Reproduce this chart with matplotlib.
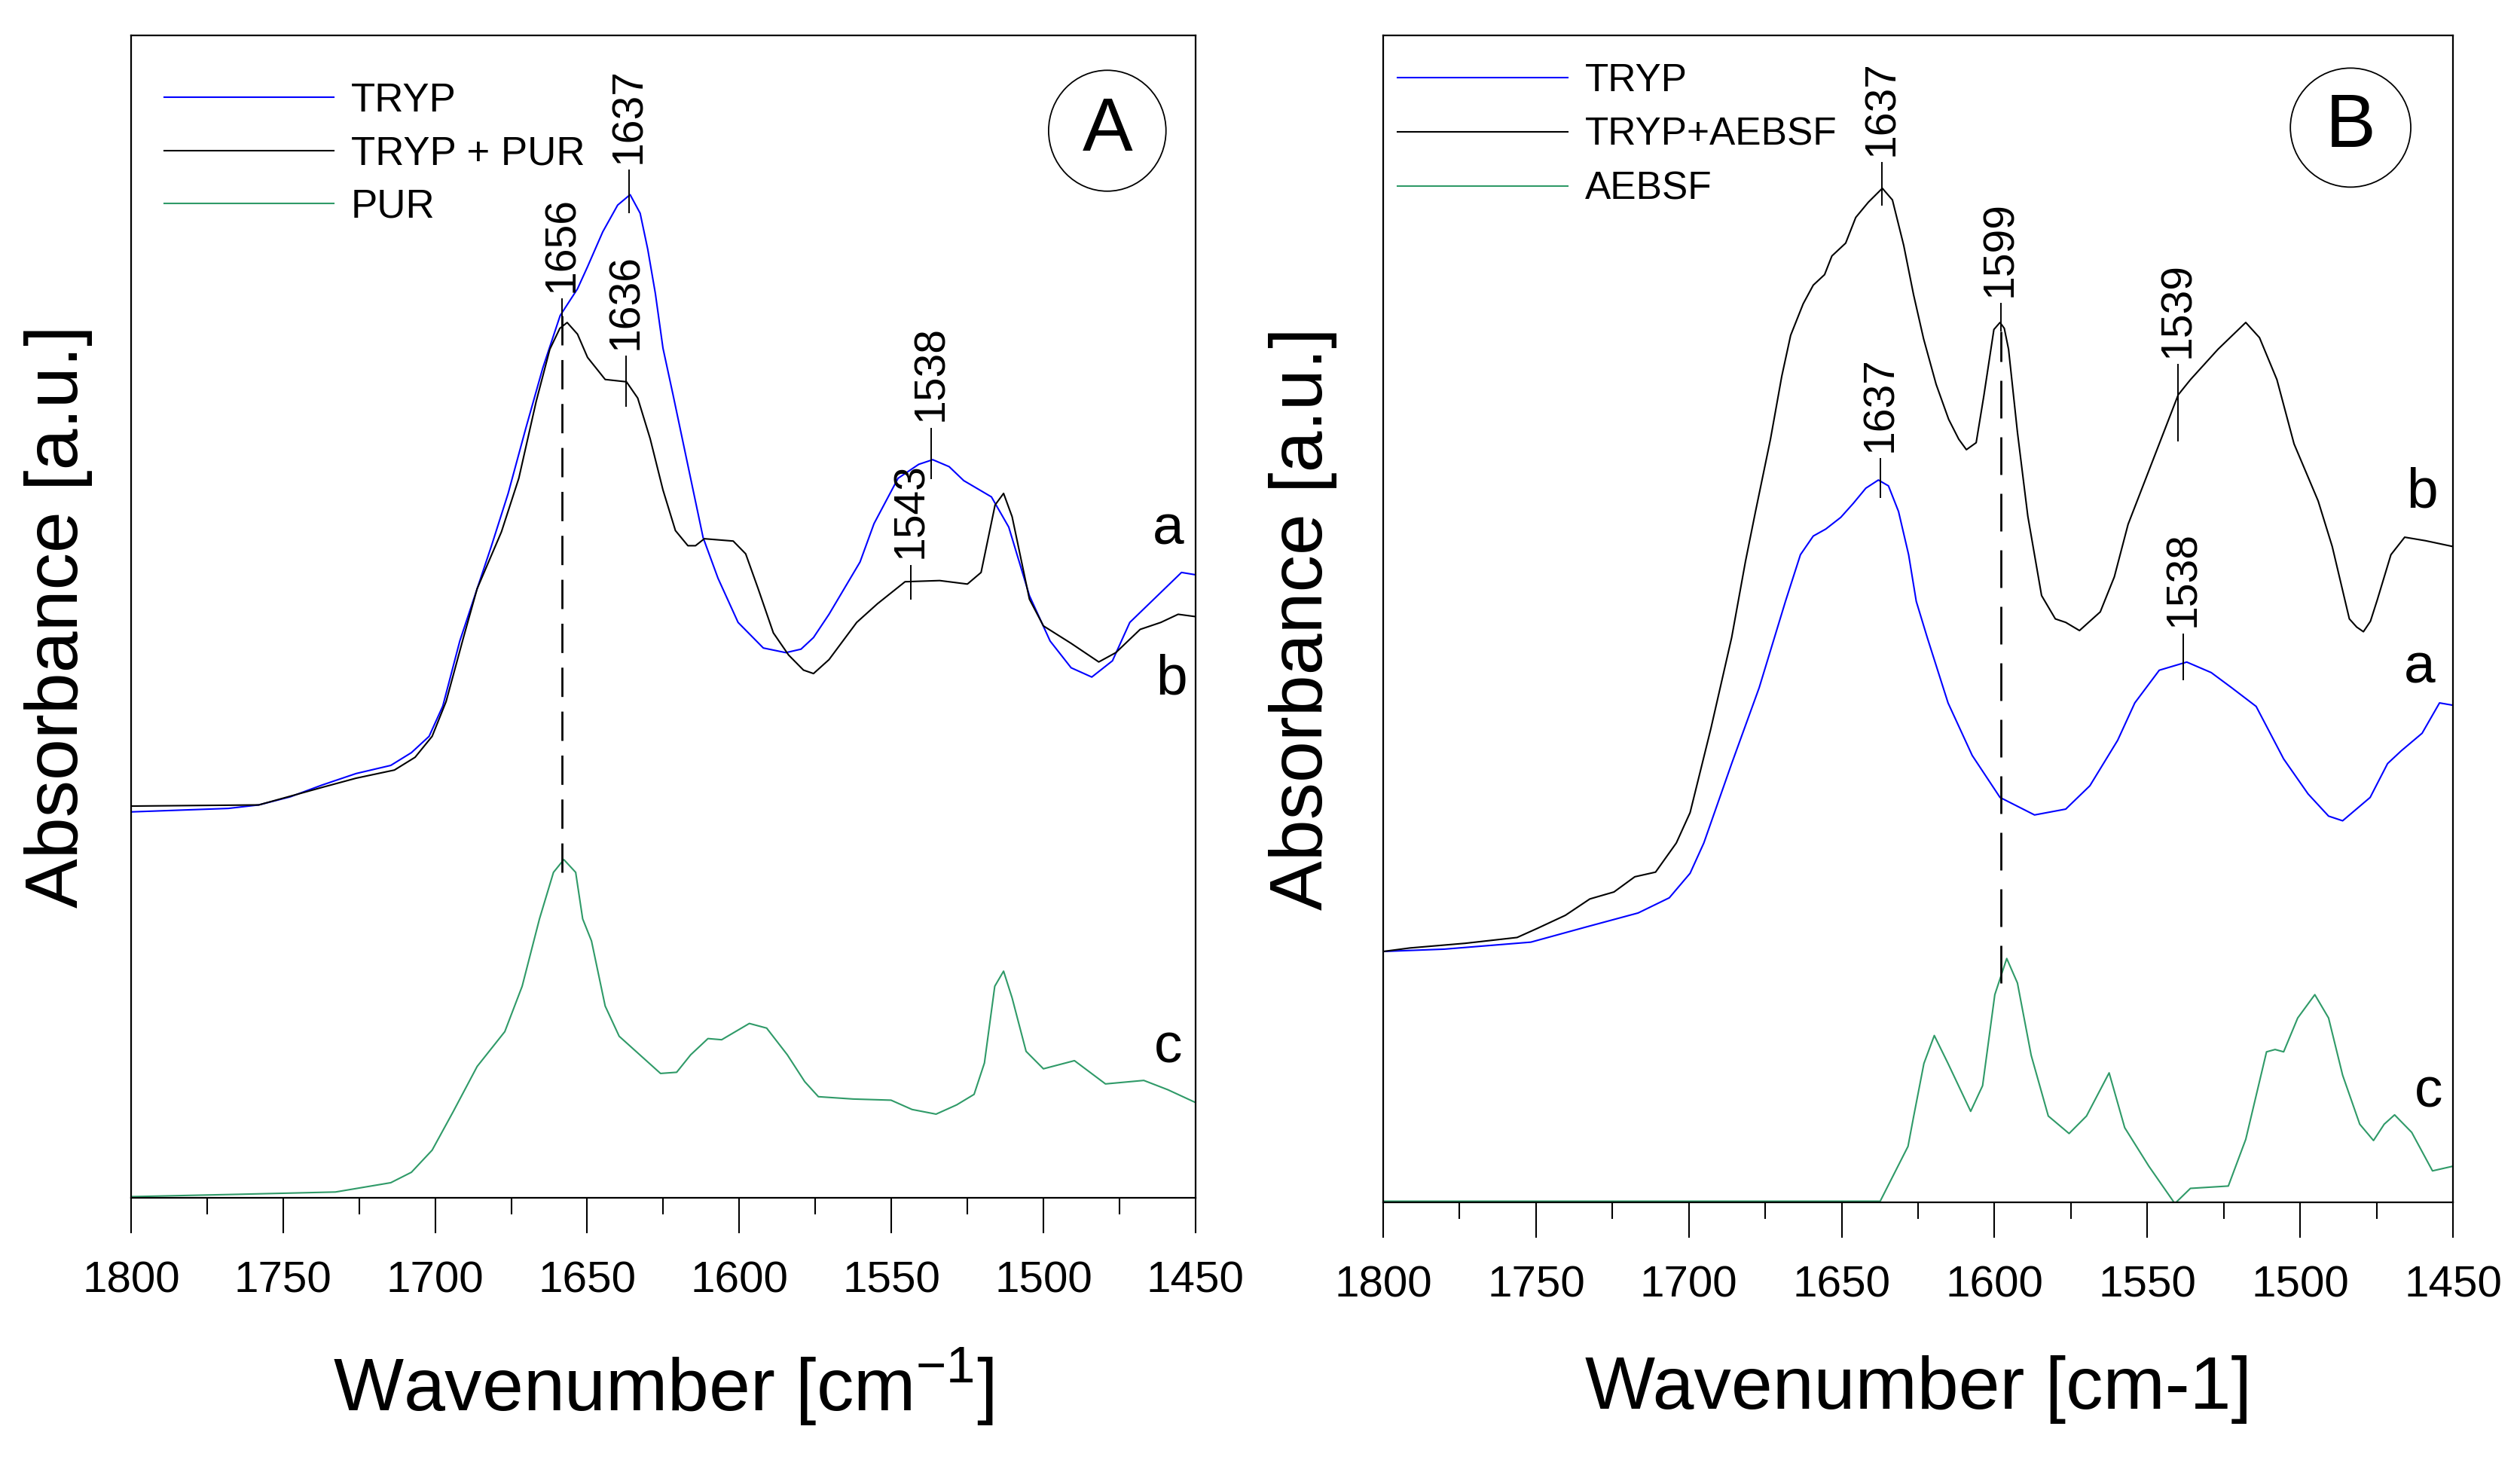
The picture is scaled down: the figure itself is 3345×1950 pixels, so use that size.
import numpy as np
import matplotlib
matplotlib.use("Agg")
import matplotlib.pyplot as plt
from matplotlib.patches import Ellipse
from matplotlib.ticker import MultipleLocator

plt.rcParams['font.family'] = ['Liberation Sans', 'DejaVu Sans']
plt.rcParams['mathtext.fontset'] = 'custom'
plt.rcParams['mathtext.rm'] = 'Liberation Sans'
plt.rcParams['mathtext.it'] = 'Liberation Sans'
plt.rcParams['lines.solid_joinstyle'] = 'round'

BLUE = '#0000ff'
BLACK = '#000000'
GREEN = '#2f9a68'
NARROW = ['Liberation Sans Narrow', 'Liberation Sans', 'DejaVu Sans']

# ---- panel A : TRYP / TRYP + PUR / PUR (absorbance in arbitrary units)
a_tryp_w = [1800, 1768, 1758, 1747.6, 1737.3, 1726, 1714.6, 1707.8, 1702, 1697.5, 1691.9,
            1686.2, 1681.6, 1676, 1670.2, 1664.6, 1658.9, 1653.2, 1649.9, 1644.9, 1640.0,
            1635.9, 1632.6, 1630.1, 1627.6, 1625.1, 1621.8, 1618.5, 1615.2, 1611.9, 1607,
            1600.4, 1592.1, 1584.7, 1579.7, 1575.6, 1570.5, 1560.3, 1555.7, 1547.8, 1541,
            1536.4, 1531, 1526.2, 1517.1, 1511.4, 1504.6, 1497.8, 1490.9, 1484.1, 1477.3,
            1471.6, 1462.5, 1454.6, 1450]
a_tryp_y = [33.2, 33.5, 33.8, 34.5, 35.5, 36.5, 37.2, 38.3, 39.7, 42.3, 47.9,
            52.4, 56.0, 60.6, 66.2, 71.4, 75.9, 78.2, 80.1, 83.1, 85.4,
            86.3, 84.7, 81.6, 77.8, 73.1, 69.1, 65.0, 60.9, 56.8, 53.3,
            49.5, 47.3, 46.9, 47.2, 48.2, 50.2, 54.7, 58.0, 61.9, 63.1,
            63.5, 62.9, 61.7, 60.3, 57.7, 51.8, 47.9, 45.6, 44.8, 46.2,
            49.5, 51.8, 53.8, 53.6]

a_mix_w = [1800, 1758, 1737.3, 1726, 1713.4, 1706.6, 1701, 1696.4, 1690.7, 1686.2, 1678.2,
           1672.5, 1666.8, 1662.3, 1659, 1656.6, 1653.2, 1649.9, 1644.1, 1637.1, 1633.4,
           1629.3, 1625.1, 1621.0, 1616.9, 1614.4, 1611.5, 1602, 1597.9, 1593.8, 1588.8,
           1583.8, 1578.9, 1575.6, 1570.5, 1561.4, 1554.6, 1545.5, 1534.1, 1525, 1520.5,
           1515.9, 1513.1, 1510.3, 1504.6, 1500, 1490.9, 1481.8, 1476.2, 1468.2, 1461.4,
           1455.7, 1450]
a_mix_y = [33.7, 33.8, 35.3, 36.1, 36.8, 37.9, 39.7, 42.7, 48.2, 52.4, 57.3,
           61.9, 68.5, 73.0, 74.8, 75.3, 74.3, 72.3, 70.4, 70.2, 68.8,
           65.3, 60.9, 57.4, 56.1, 56.1, 56.7, 56.5, 55.4, 52.4, 48.6,
           46.7, 45.4, 45.1, 46.3, 49.5, 51.1, 53.0, 53.1, 52.8, 53.8,
           59.6, 60.6, 58.6, 51.5, 49.2, 47.7, 46.1, 46.9, 48.9, 49.5,
           50.2, 50.0]

a_pur_w = [1800, 1765, 1732.8, 1714.6, 1707.8, 1701, 1694.1, 1686.2, 1677.1, 1671.4, 1665.7,
           1661.1, 1657.7, 1653.8, 1651.5, 1648.6, 1644.1, 1639.5, 1632.7, 1625.9, 1620.6,
           1616, 1610.3, 1605.8, 1596.7, 1591, 1584.2, 1578.5, 1574, 1562.6, 1550.1, 1543.2,
           1535.3, 1528.5, 1522.8, 1519.4, 1516, 1513.1, 1510.3, 1505.7, 1500, 1489.8,
           1479.6, 1467, 1459.1, 1450]
a_pur_y = [0.1, 0.3, 0.5, 1.3, 2.2, 4.1, 7.4, 11.3, 14.3, 18.2, 24.0,
           28.0, 29.1, 28.0, 24.0, 22.1, 16.5, 13.9, 12.3, 10.7, 10.8,
           12.3, 13.7, 13.6, 15.0, 14.6, 12.3, 10.0, 8.7, 8.5, 8.4, 7.6,
           7.2, 8.0, 8.9, 11.6, 18.2, 19.5, 17.2, 12.6, 11.1, 11.8,
           9.8, 10.1, 9.3, 8.2]

# peak marks: position, tick bottom, tick top, label
a_marks = [(1636.2, 84.8, 88.4, '1637'),
           (1658.3, 75.0, 77.3, '1656'),
           (1637.3, 68.1, 72.4, '1636'),
           (1537.0, 61.9, 66.2, '1538'),
           (1543.5, 51.5, 54.4, '1543')]

# ---- panel B : TRYP / TRYP+AEBSF / AEBSF
b_tryp_w = [1800, 1780, 1751.7, 1733.6, 1716.6, 1706.4, 1699.6, 1695.1, 1686, 1677, 1668.4,
            1663.5, 1659.3, 1655.2, 1650.3, 1646.2, 1642.1, 1638, 1634.7, 1631.4, 1628.1,
            1625.6, 1622, 1615.2, 1607.3, 1598.2, 1586.9, 1576.7, 1568.8, 1559.7, 1554.1,
            1546.1, 1537.1, 1529.1, 1522.4, 1514.4, 1505.4, 1497.4, 1490.7, 1486.1, 1477.1,
            1471.4, 1466.9, 1460.1, 1454.4, 1450]
b_tryp_y = [21.5, 21.7, 22.3, 23.6, 24.8, 26.1, 28.2, 30.8, 37.6, 44.1, 51.5,
            55.5, 57.1, 57.7, 58.7, 59.9, 61.2, 61.9, 61.4, 59.2, 55.5,
            51.5, 48.4, 42.8, 38.3, 34.7, 33.2, 33.7, 35.7, 39.6, 42.8,
            45.6, 46.3, 45.4, 44.1, 42.5, 38.0, 35.0, 33.1, 32.7, 34.7,
            37.6, 38.7, 40.2, 42.8, 42.6]

b_mix_w = [1800, 1791.3, 1773.2, 1756.2, 1749.4, 1740.4, 1732.4, 1724.5, 1717.7, 1710.9,
           1704.1, 1699.6, 1692.8, 1686, 1681.5, 1678.2, 1673.3, 1669.6, 1666.7, 1662.6,
           1659.3, 1655.6, 1653.2, 1648.7, 1645.4, 1641.3, 1636.7, 1633.4, 1629.7, 1626.5,
           1623.2, 1619.1, 1615, 1611.7, 1609.2, 1606, 1603.5, 1600.2, 1598.2, 1596.8, 1595.4,
           1592.5, 1589.1, 1584.6, 1580.1, 1576.7, 1572.2, 1565.4, 1560.8, 1556.3, 1549.5,
           1539.9, 1535.9, 1526.9, 1517.8, 1513.3, 1507.6, 1502, 1494.1, 1489.5, 1483.9,
           1481.5, 1479.3, 1477, 1474.8, 1470.3, 1465.8, 1459, 1450]
b_mix_y = [21.5, 21.8, 22.2, 22.7, 23.5, 24.6, 26.0, 26.6, 27.9, 28.3,
           30.8, 33.4, 40.6, 48.4, 54.9, 59.2, 65.4, 70.8, 74.3, 77.0,
           78.6, 79.5, 81.1, 82.2, 84.4, 85.7, 86.9, 85.9, 82.0, 77.8,
           74.0, 70.1, 67.1, 65.4, 64.5, 65.1, 69.1, 74.8, 75.4, 74.9, 73.1,
           66.0, 58.8, 52.0, 50.0, 49.7, 49.0, 50.6, 53.6, 58.1, 62.7,
           69.2, 70.5, 73.1, 75.4, 74.1, 70.5, 65.0, 60.1, 56.2, 50.0,
           49.3, 48.9, 49.8, 51.6, 55.5, 57.0, 56.7, 56.2]

b_aebsf_w = [1800, 1700, 1637.4, 1628.3, 1626.5, 1623.1, 1619.7, 1615.2, 1607.8, 1603.9,
             1599.9, 1596, 1592.5, 1588, 1582.4, 1575.6, 1569.9, 1562.5, 1557.4, 1549.5,
             1541, 1535.9, 1523.5, 1517.8, 1511, 1508.2, 1505.4, 1500.8, 1495.2, 1490.7,
             1486.1, 1480.5, 1476, 1472.5, 1469.1, 1463.5, 1456.7, 1450]
b_aebsf_y = [0.1, 0.1, 0.1, 4.8, 7.3, 11.9, 14.3, 11.9, 7.8, 10.0,
             17.8, 20.9, 18.8, 12.6, 7.4, 5.9, 7.4, 11.1, 6.4, 3.1,
             -0.1, 1.2, 1.4, 5.4, 12.9, 13.1, 12.9, 15.8, 17.8, 15.8,
             10.9, 6.7, 5.3, 6.7, 7.5, 6.0, 2.7, 3.1]

b_marks = [(1636.8, 85.5, 89.1, '1637'),
           (1637.4, 60.4, 63.7, '1637'),
           (1598.0, 74.7, 77.0, '1599'),
           (1539.9, 65.3, 71.8, '1539'),
           (1538.2, 44.8, 48.7, '1538')]

xticks = [1800, 1750, 1700, 1650, 1600, 1550, 1500, 1450]


def mark(ax, x, y0, y1, label):
    ax.plot([x, x], [y0, y1], color='black', lw=1.4)
    ax.text(x, y1 + 0.6, label, rotation=90, ha='center', va='bottom',
            fontsize=41, family=NARROW)


def setup(ax):
    ax.set_xlim(1800, 1450)
    ax.set_ylim(0, 100)
    ax.set_yticks([])
    ax.set_xticks(xticks)
    ax.xaxis.set_minor_locator(MultipleLocator(25))
    ax.tick_params(axis='x', which='major', direction='out', length=34, width=1.5,
                   pad=26, labelsize=42)
    ax.tick_params(axis='x', which='minor', direction='out', length=16, width=1.5)
    for s in ax.spines.values():
        s.set_linewidth(1.6)


fig = plt.figure(figsize=(33.45, 19.5), dpi=100)
axA = fig.add_axes([0.052, 0.1846, 0.4224, 0.7913])
axB = fig.add_axes([0.5489, 0.1815, 0.4245, 0.7944])

# panel A
setup(axA)
axA.plot(a_tryp_w, a_tryp_y, color=BLUE, lw=1.5, label='TRYP')
axA.plot(a_mix_w, a_mix_y, color=BLACK, lw=1.5, label='TRYP + PUR')
axA.plot(a_pur_w, a_pur_y, color=GREEN, lw=1.5, label='PUR')
axA.plot([1658.3, 1658.3], [28.0, 75.9], color='black', lw=2, dashes=(14, 7))
for m in a_marks:
    mark(axA, *m)
axA.text(1459, 57.5, 'a', fontsize=54, ha='center', va='center')
axA.text(1458, 44.6, 'b', fontsize=54, ha='center', va='center')
axA.text(1459, 12.9, 'c', fontsize=54, ha='center', va='center')
axA.add_patch(Ellipse((1479, 91.8), 38.6, 10.4, fill=False, ec='black', lw=1.3))
axA.text(1479, 91.8, 'A', fontsize=72, ha='center', va='center')
axA.legend(loc='upper left', bbox_to_anchor=(0.031, 0.960), frameon=False,
           fontsize=38, handlelength=4.26, handletextpad=0.44, labelspacing=0.385,
           borderaxespad=0, borderpad=0)
axA.set_xlabel('Wavenumber [cm$^{-1}$]', fontsize=71, labelpad=42)
axA.set_ylabel('Absorbance [a.u.]', fontsize=71, labelpad=37)

# panel B
setup(axB)
axB.plot(b_tryp_w, b_tryp_y, color=BLUE, lw=1.5, label='TRYP')
axB.plot(b_mix_w, b_mix_y, color=BLACK, lw=1.5, label='TRYP+AEBSF')
axB.plot(b_aebsf_w, b_aebsf_y, color=GREEN, lw=1.5, label='AEBSF')
axB.plot([1598.0, 1598.0], [18.8, 74.6], color='black', lw=2, dashes=(18, 9))
for m in b_marks:
    mark(axB, *m)
axB.text(1460, 60.8, 'b', fontsize=54, ha='center', va='center')
axB.text(1461, 45.8, 'a', fontsize=54, ha='center', va='center')
axB.text(1458, 9.4, 'c', fontsize=54, ha='center', va='center')
axB.add_patch(Ellipse((1483.5, 92.1), 39.4, 10.2, fill=False, ec='black', lw=1.3))
axB.text(1483.5, 92.1, 'B', fontsize=72, ha='center', va='center')
axB.legend(loc='upper left', bbox_to_anchor=(0.013, 0.977), frameon=False,
           fontsize=37, handlelength=4.4, handletextpad=0.45, labelspacing=0.45,
           borderaxespad=0, borderpad=0)
axB.set_xlabel('Wavenumber [cm-1]', fontsize=71, labelpad=47)
axB.set_ylabel('Absorbance [a.u.]', fontsize=71, labelpad=44)

fig.savefig('out.png', dpi=100)
